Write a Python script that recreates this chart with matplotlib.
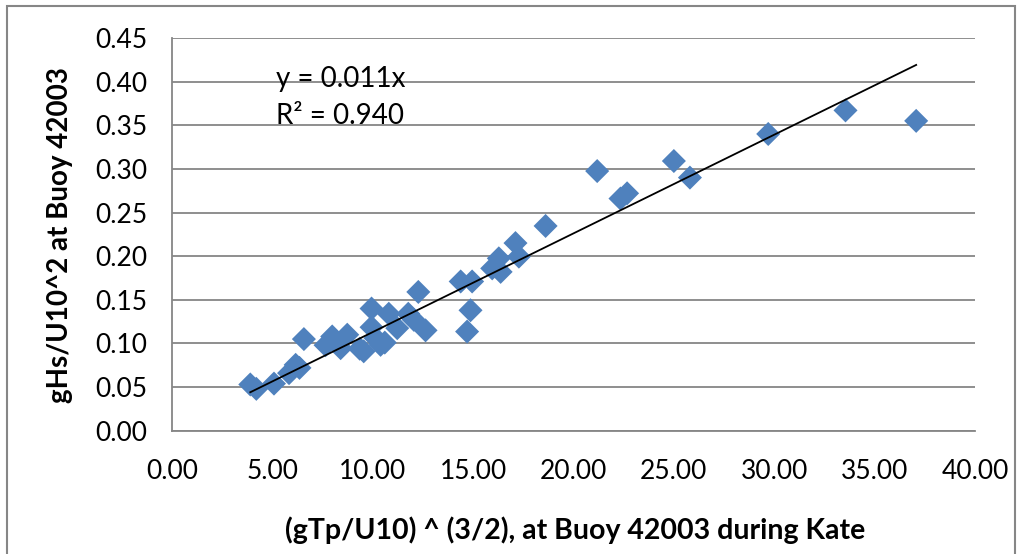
import matplotlib.pyplot as plt
import numpy as np
from matplotlib.patches import Rectangle

plt.rcParams['font.family'] = ['Lato', 'DejaVu Sans']

# points
x_vals = [3.90, 4.20, 5.08, 5.83, 6.16, 6.35, 6.57, 7.65, 7.98, 8.10, 8.40, 8.73,
          9.35, 9.55, 9.94, 9.94, 10.14, 10.39, 10.60, 10.80, 11.22, 11.77, 12.05,
          12.27, 12.63, 14.38, 14.70, 14.87, 14.95, 15.95, 16.28, 16.37, 17.11,
          17.28, 18.61, 21.18, 22.34, 22.67, 25.00, 25.80, 29.70, 33.55, 37.07]
y_vals = [0.053, 0.048, 0.054, 0.066, 0.0755, 0.072, 0.105, 0.098, 0.108, 0.103, 0.0946, 0.110,
          0.094, 0.091, 0.140, 0.1186, 0.106, 0.0984, 0.101, 0.134, 0.1175, 0.134, 0.127,
          0.159, 0.115, 0.171, 0.1136, 0.138, 0.171, 0.186, 0.1975, 0.182, 0.215,
          0.1995, 0.2346, 0.2975, 0.266, 0.272, 0.309, 0.290, 0.340, 0.367, 0.355]

x = np.array(x_vals)
y = np.array(y_vals)

# linear trend through the origin
slope = np.sum(x * y) / np.sum(x * x)
x_line = np.array([x.min(), x.max()])

fig = plt.figure(figsize=(10.22, 5.54), dpi=100)
ax = fig.add_axes([0.1683, 0.2225, 0.7857, 0.709])

grid_c = '#868686'
ax.set_xlim(0, 40)
ax.set_ylim(0, 0.45)
ax.set_xticks(np.arange(0, 41, 5))
ax.set_yticks(np.arange(0, 0.451, 0.05))
ax.set_xticklabels([f"{v:.2f}" for v in np.arange(0, 41, 5)])
ax.set_yticklabels([f"{v:.2f}" for v in np.arange(0, 0.451, 0.05)])
ax.tick_params(length=0, labelsize=19, colors='black')
ax.tick_params(axis='x', pad=20)
ax.tick_params(axis='y', pad=18)
ax.yaxis.grid(True, color=grid_c, linewidth=1.3)
ax.set_axisbelow(True)
for side in ['top', 'right']:
    ax.spines[side].set_visible(False)
for side in ['left', 'bottom']:
    ax.spines[side].set_color(grid_c)
    ax.spines[side].set_linewidth(1.3)

ax.scatter(x, y, marker='D', s=150, color='#4F81BD', edgecolors='none', zorder=3)
ax.plot(x_line, slope * x_line, color='black', linewidth=1.3, zorder=4)

ax.text(5.2, 0.4035, 'y = 0.011x', fontsize=20, va='center', ha='left')
ax.text(5.2, 0.3605, 'R² = 0.940', fontsize=20, va='center', ha='left')

fig.text(0.5626, 0.043, '(gTp/U10) ^ (3/2), at Buoy 42003 during Kate',
         fontsize=20.5, fontweight='bold', ha='center', va='center')
fig.text(0.059, 0.576, 'gHs/U10^2 at Buoy 42003', fontsize=20, fontweight='bold',
         rotation=90, ha='center', va='center')

fig.patches.append(Rectangle((0.007, -0.01), 0.986, 0.999, transform=fig.transFigure,
                             fill=False, edgecolor=grid_c, linewidth=1.5))

fig.savefig('out.png', dpi=100)
